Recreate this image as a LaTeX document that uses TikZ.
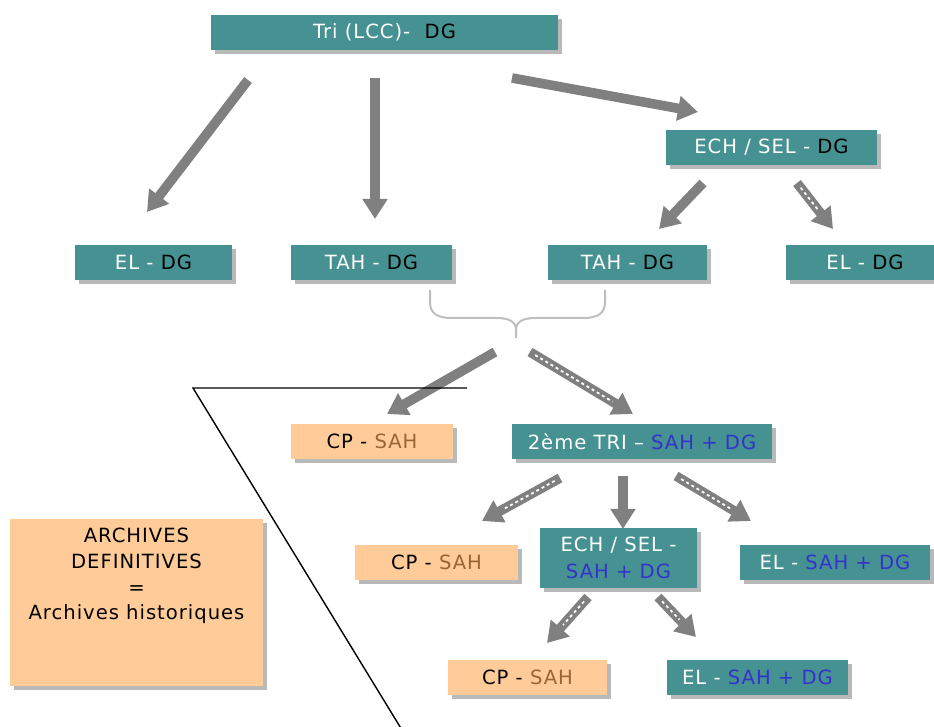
\documentclass[tikz,border=0pt]{standalone}
\usepackage{fontspec}
\setmainfont{DejaVu Sans}[LetterSpace=5]
\usetikzlibrary{arrows.meta,shadows}
\definecolor{tealbox}{RGB}{70,145,145}
\definecolor{orangebox}{RGB}{255,204,153}
\definecolor{sahblue}{RGB}{51,51,204}
\definecolor{sahbrown}{RGB}{153,102,51}
\definecolor{arrowgray}{RGB}{128,128,128}
\definecolor{bracegray}{RGB}{190,190,190}
\definecolor{shadowgray}{RGB}{185,185,185}
\begin{document}
\begin{tikzpicture}[x=0.5pt,y=-0.5pt,
  font=\fontsize{9.8}{13.5}\selectfont,
  boxbase/.style={inner sep=0pt, minimum height=17.5pt,
    drop shadow={shadow xshift=2pt, shadow yshift=-2pt, fill=shadowgray, opacity=1}},
  tealnode/.style={boxbase, fill=tealbox, text=white},
  orangenode/.style={boxbase, fill=orangebox, text=black},
  bigarrow/.style={draw=arrowgray, line width=4.8pt, -{Triangle[width=12pt,length=10pt]}},
  dotline/.style={draw=white, line width=0.9pt, dash pattern=on 1.5pt off 1.5pt, shorten >=12pt, shorten <=3pt},
  thinline/.style={draw=black, line width=0.7pt}
]
\useasboundingbox (0,0) rectangle (934,727);

% boxes
\node[tealnode, minimum width=173.5pt] (top) at (384.5,32.5) {Tri (LCC)-\ \ \textcolor{black}{DG}};
\node[tealnode, minimum width=105.5pt] (echdg) at (771.5,147.5) {ECH / SEL - \textcolor{black}{DG}};
\node[tealnode, minimum width=78.5pt] (el1) at (153.5,262.5) {EL - \textcolor{black}{DG}};
\node[tealnode, minimum width=80.5pt] (tah1) at (371.5,262.5) {TAH - \textcolor{black}{DG}};
\node[tealnode, minimum width=79.5pt] (tah2) at (627.5,262.5) {TAH - \textcolor{black}{DG}};
\node[tealnode, minimum width=79pt] (el2) at (865,262.5) {EL - \textcolor{black}{DG}};
\node[orangenode, minimum width=81pt] (cp1) at (372,441.5) {CP - \textcolor{sahbrown}{SAH}};
\node[tealnode, minimum width=130pt] (tri2) at (642,441.5) {2ème TRI – \textcolor{sahblue}{SAH + DG}};
\node[orangenode, minimum width=81.5pt] (cp2) at (436.5,562.5) {CP - \textcolor{sahbrown}{SAH}};
\node[tealnode, minimum width=78.5pt, minimum height=30pt, align=center] (ech2) at (618.5,558) {ECH / SEL -\\\textcolor{sahblue}{SAH + DG}};
\node[tealnode, minimum width=95pt] (el3) at (835,562.5) {EL - \textcolor{sahblue}{SAH + DG}};
\node[orangenode, minimum width=79.5pt] (cp3) at (527.5,677.5) {CP - \textcolor{sahbrown}{SAH}};
\node[tealnode, minimum width=90.5pt] (el4) at (757.5,677.5) {EL - \textcolor{sahblue}{SAH + DG}};
\node[orangenode, minimum width=126.5pt, minimum height=83.5pt] (arch) at (136.5,602.5) {};
\node[anchor=north, align=center, inner sep=0pt, font=\fontsize{9.8}{12.8}\selectfont] (archtext) at (136.5,528) {ARCHIVES\\DEFINITIVES\\=\\Archives historiques};

% brace
\coordinate (brl) at (430,290);
\coordinate (brr) at (605,290);
\coordinate (brtip) at (516,338);
\draw[draw=bracegray, line width=1pt] (brl) -- (430,302) .. controls (430,314) and (438,318) .. (452,318)
  -- (496,318) .. controls (510,318) and (516,322) .. (516,330) -- (brtip);
\draw[draw=bracegray, line width=1pt] (brr) -- (605,302) .. controls (605,314) and (597,318) .. (583,318)
  -- (536,318) .. controls (522,318) and (516,322) .. (516,330);

% arrow coordinates
\coordinate (a1s) at (248,80);   \coordinate (a1e) at (147,212);
\coordinate (a2s) at (375,78);   \coordinate (a2e) at (375,219);
\coordinate (a3s) at (512,78);   \coordinate (a3e) at (698,112);
\coordinate (a4s) at (703,183);  \coordinate (a4e) at (659,229);
\coordinate (a5s) at (797,183);  \coordinate (a5e) at (833,229);
\coordinate (a6s) at (495,352);  \coordinate (a6e) at (387,414);
\coordinate (a7s) at (530,352);  \coordinate (a7e) at (633,414);
\coordinate (a8s) at (560,478);  \coordinate (a8e) at (482,521);
\coordinate (a9s) at (623,476);  \coordinate (a9e) at (623,529);
\coordinate (a10s) at (676,476); \coordinate (a10e) at (751,521);
\coordinate (a11s) at (588,597); \coordinate (a11e) at (547,643);
\coordinate (a12s) at (658,597); \coordinate (a12e) at (696,637);

\draw[bigarrow] (a1s) -- (a1e);
\draw[bigarrow] (a2s) -- (a2e);
\draw[bigarrow] (a3s) -- (a3e);
\draw[bigarrow] (a4s) -- (a4e);
\draw[bigarrow] (a5s) -- (a5e);
\draw[dotline] (a5s) -- (a5e);
\draw[bigarrow] (a6s) -- (a6e);
\draw[bigarrow] (a7s) -- (a7e);
\draw[dotline] (a7s) -- (a7e);
\draw[bigarrow] (a8s) -- (a8e);
\draw[dotline] (a8s) -- (a8e);
\draw[bigarrow] (a9s) -- (a9e);
\draw[bigarrow] (a10s) -- (a10e);
\draw[dotline] (a10s) -- (a10e);
\draw[bigarrow] (a11s) -- (a11e);
\draw[dotline] (a11s) -- (a11e);
\draw[bigarrow] (a12s) -- (a12e);
\draw[dotline] (a12s) -- (a12e);

% thin black lines
\coordinate (lc) at (193,388);
\coordinate (lh) at (467,388);
\coordinate (ld) at (402,730);
\draw[thinline] (lh) -- (lc) -- (ld);
\end{tikzpicture}
\end{document}
